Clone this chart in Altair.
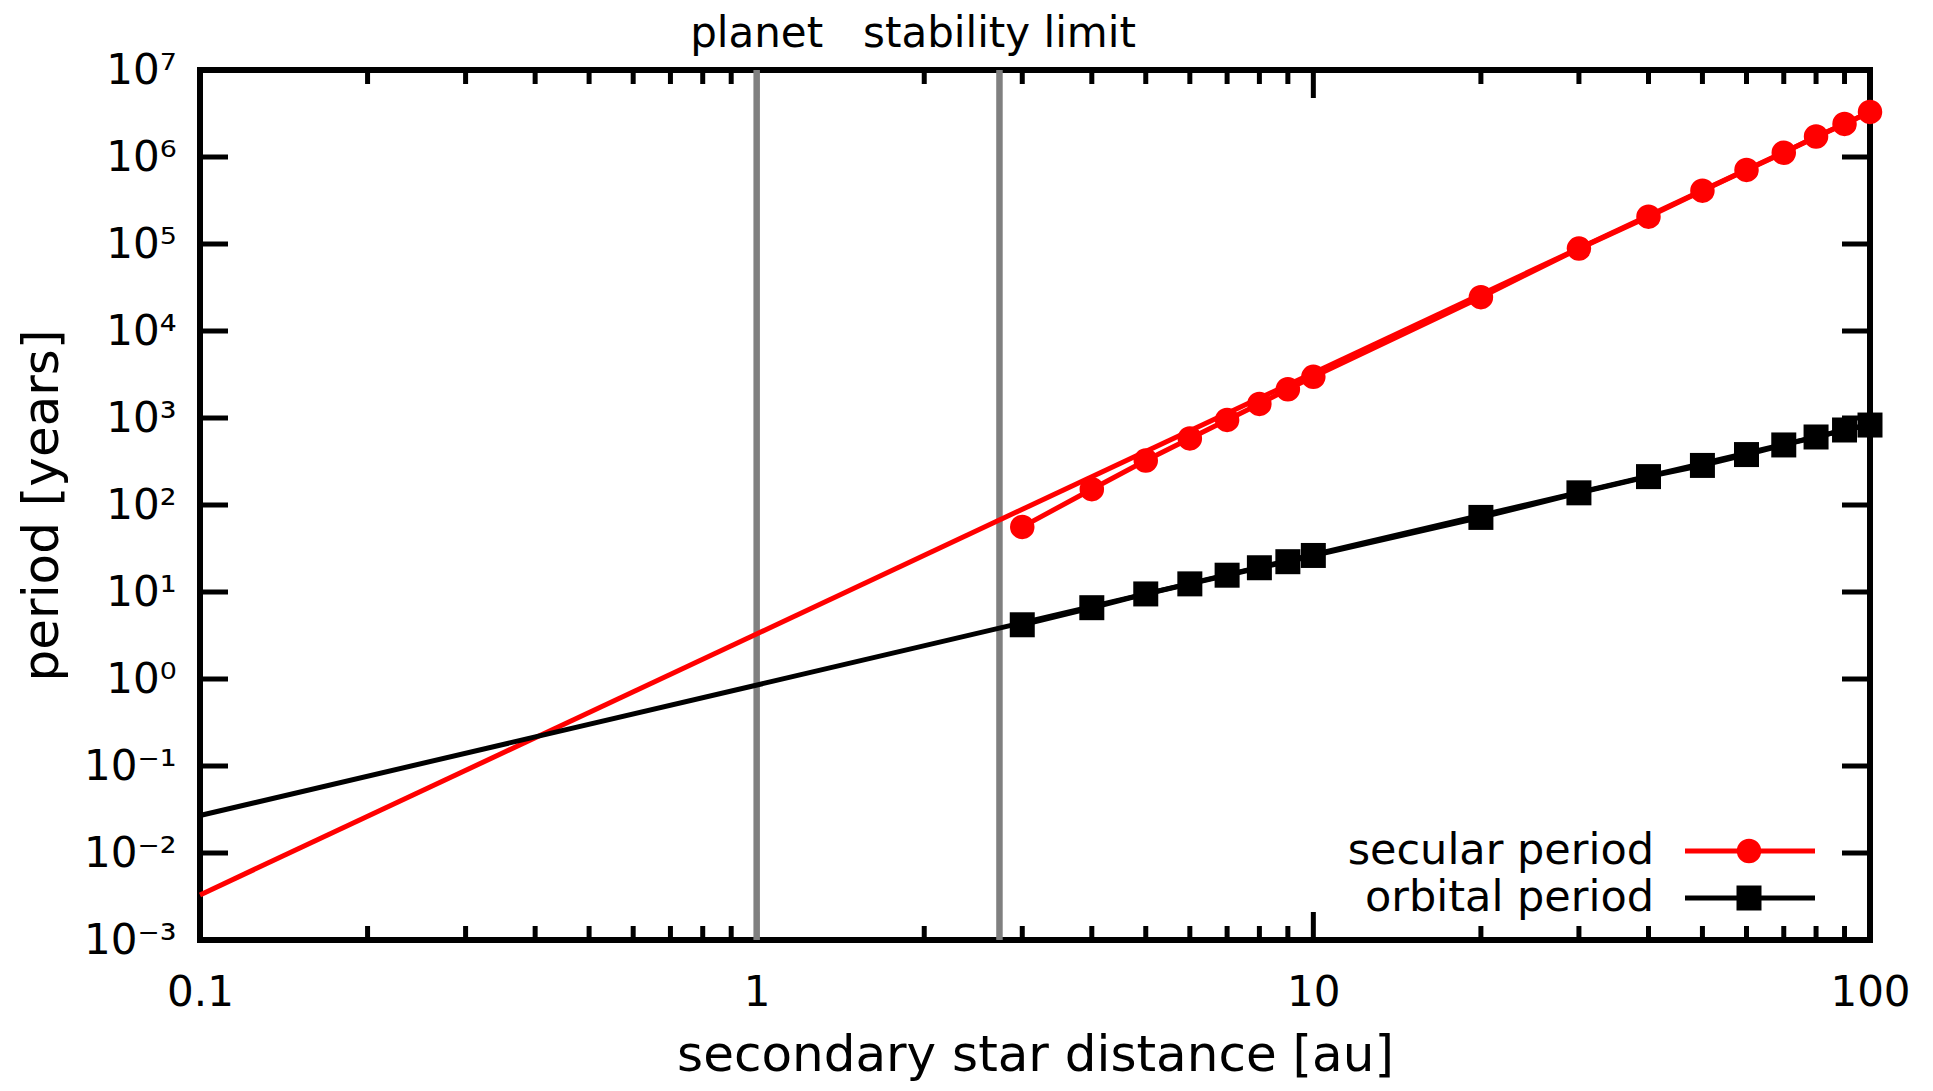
import json
import altair as alt
import pandas as pd

# ---- data ----
distance_au = [3, 4, 5, 6, 7, 8, 9, 10, 20, 30, 40, 50, 60, 70, 80, 90, 100]
secular_period = [56, 152, 324, 582, 950, 1450, 2140, 2970, 24500, 88500,
                  206000, 410000, 710000, 1120000, 1720000, 2400000, 3300000]
orbital_period = [4.2, 6.6, 9.5, 12.4, 15.6, 19.0, 22.3, 26.3, 72, 138,
                  212, 285, 380, 490, 605, 728, 830]

fit_x = [0.1, 100]
secular_fit = [0.0033, 3300000]
orbital_fit = [0.027, 850]

limit_x = [1.0, 2.73]
limit_labels = ["planet", "stability limit"]

x_major = [0.1, 1, 10, 100]
x_minor = [0.2, 0.3, 0.4, 0.5, 0.6, 0.7, 0.8, 0.9,
           2, 3, 4, 5, 6, 7, 8, 9,
           20, 30, 40, 50, 60, 70, 80, 90]
x_tick_labels = ["0.1", "1", "10", "100"]
y_major = [1e-3, 1e-2, 1e-1, 1e0, 1e1, 1e2, 1e3, 1e4, 1e5, 1e6, 1e7]
y_tick_labels = ["10⁻³", "10⁻²", "10⁻¹", "10⁰", "10¹", "10²", "10³",
                 "10⁴", "10⁵", "10⁶", "10⁷"]

series_names = ["secular period", "orbital period"]
series_colors = ["#ff0000", "#000000"]
series_shapes = ["circle", "square"]
series_sizes = [600, 625]

# ---- layout / style ----
W, H = 1670, 870
FONT = "DejaVu Sans"
MAJ, MIN = 28, 14
TICK_W = 5

xs = alt.Scale(type="log", domain=[0.1, 100], nice=False)
ys = alt.Scale(type="log", domain=[1e-3, 1e7], nice=False)

x_axis = alt.Axis(
    title="secondary star distance [au]", values=x_major,
    labelExpr=json.dumps(x_tick_labels, ensure_ascii=False) + "[round(log(datum.value)/LN10)+1]",
    grid=False, domain=False, ticks=False, tickSize=0,
    labelFont=FONT, labelFontSize=42, labelColor="black",
    labelPadding=65, labelBaseline="alphabetic", labelFlush=False, labelOverlap=False,
    titleFont=FONT, titleFontSize=50, titleFontWeight="normal", titleColor="black",
    titleX=W / 2, titleY=130, titleBaseline="alphabetic", titleAlign="center",
)
y_axis = alt.Axis(
    title="period [years]", values=y_major,
    labelExpr=json.dumps(y_tick_labels, ensure_ascii=False) + "[round(log(datum.value)/LN10)+3]",
    grid=False, domain=False, ticks=False, tickSize=0,
    labelFont=FONT, labelFontSize=42, labelColor="black",
    labelPadding=24, labelAlign="right", labelBaseline="middle", labelOverlap=False,
    titleFont=FONT, titleFontSize=50, titleFontWeight="normal", titleColor="black",
    titleX=-158, titleY=H / 2, titleAngle=270, titleBaseline="middle", titleAlign="center",
)


def X(field):
    return alt.X(field, scale=xs, axis=x_axis)


def Y(field):
    return alt.Y(field, scale=ys, axis=y_axis)


df_pts = pd.DataFrame({"a": distance_au, "sec": secular_period, "orb": orbital_period})
df_fit = pd.DataFrame({"a": fit_x, "sec": secular_fit, "orb": orbital_fit})
df_lim = pd.DataFrame({"a": limit_x, "label": limit_labels})
df_xmaj = pd.DataFrame({"a": x_major})
df_xmin = pd.DataFrame({"a": x_minor})
df_ymaj = pd.DataFrame({"sec": y_major})
one = pd.DataFrame({"k": [0]})

layers = []

# inward ticks (gnuplot style), bottom/top/left/right
def xticks(df, length):
    out = []
    for y0, y1 in [(H, H - length), (0, length)]:
        out.append(alt.Chart(df).mark_rule(color="black", strokeWidth=TICK_W).encode(
            x=X("a:Q"), y=alt.value(y0), y2=alt.value(y1)))
    return out

layers += xticks(df_xmaj, MAJ)
layers += xticks(df_xmin, MIN)
for x0, x1 in [(0, MAJ), (W, W - MAJ)]:
    layers.append(alt.Chart(df_ymaj).mark_rule(color="black", strokeWidth=TICK_W).encode(
        y=Y("sec:Q"), x=alt.value(x0), x2=alt.value(x1)))

# stability limit lines and labels
layers.append(alt.Chart(df_lim).mark_rule(color="#808080", strokeWidth=6.5).encode(
    x=X("a:Q")))
layers.append(alt.Chart(df_lim).mark_text(font=FONT, fontSize=42, color="black",
                                          align="center", baseline="alphabetic").encode(
    x=X("a:Q"), y=alt.value(-23), text="label:N"))

# fit lines
for col, c in [("sec", series_colors[0]), ("orb", series_colors[1])]:
    layers.append(alt.Chart(df_fit).mark_line(color=c, strokeWidth=5).encode(
        x=X("a:Q"), y=Y(f"{col}:Q")))

# data lines and points
for col, c, shp, sz in [("sec", series_colors[0], series_shapes[0], series_sizes[0]),
                        ("orb", series_colors[1], series_shapes[1], series_sizes[1])]:
    layers.append(alt.Chart(df_pts).mark_line(color=c, strokeWidth=5).encode(
        x=X("a:Q"), y=Y(f"{col}:Q")))
    layers.append(alt.Chart(df_pts).mark_point(color=c, filled=True, opacity=1, shape=shp,
                                               size=sz, strokeWidth=0).encode(
        x=X("a:Q"), y=Y(f"{col}:Q")))

# legend (bottom right, inside)
legend_rows_y = [781, 828]
for name, c, shp, sz, ry in zip(series_names, series_colors, series_shapes, series_sizes, legend_rows_y):
    layers.append(alt.Chart(one).mark_text(text=name, font=FONT, fontSize=43, color="black",
                                           align="right", baseline="middle").encode(
        x=alt.value(1454), y=alt.value(ry)))
    layers.append(alt.Chart(one).mark_rule(color=c, strokeWidth=5).encode(
        x=alt.value(1485), x2=alt.value(1615), y=alt.value(ry)))
    layers.append(alt.Chart(one).mark_point(color=c, filled=True, opacity=1, shape=shp,
                                            size=sz, strokeWidth=0).encode(
        x=alt.value(1549), y=alt.value(ry)))

chart = alt.layer(*layers).properties(
    width=W, height=H,
    autosize=alt.AutoSizeParams(type="none"),
    padding={"left": 192, "top": 62, "right": 55, "bottom": 141},
    background="white",
).configure(font=FONT).configure_view(stroke="black", strokeWidth=6)

chart.save("out.html", embed_options={"renderer": "svg", "actions": False})
